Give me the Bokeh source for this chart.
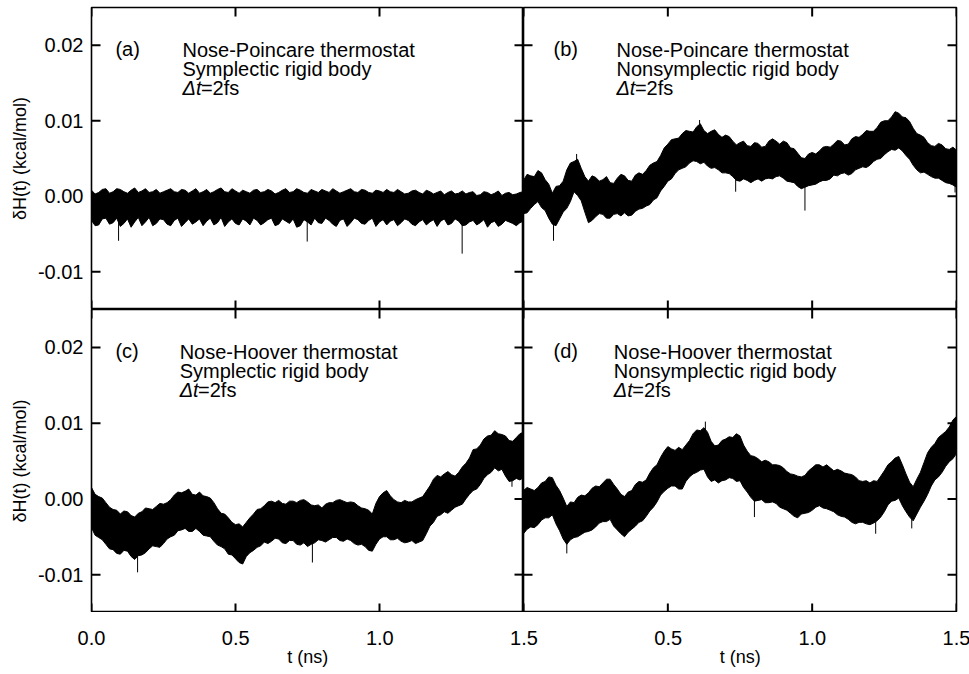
import numpy as np
from bokeh.plotting import figure
from bokeh.layouts import column, row
from bokeh.models import Range1d, LinearAxis, FixedTicker, Label, PrintfTickFormatter
from bokeh.core.properties import value
from bokeh.embed import file_html
from bokeh.resources import INLINE

FONT = "Liberation Sans"

# ---------------- data: energy drift, in units of 1e-3 kcal/mol ----------------
# envelope of the noisy trace read every 0.025 ns (hi / lo) and at the
# in-between times (mid arrays, t + 0.0125 ns)
t_ns = [round(0.025 * i, 4) for i in range(61)]
t_mid = [round(0.025 * i + 0.0125, 4) for i in range(60)]

a_hi = [0.8, 0.5, 1.0, 0.6, 0.9, 0.4, 1.1, 0.7, 0.5, 0.9,
        0.6, 1.0, 0.5, 0.8, 0.7, 0.4, 0.9, 0.6, 1.1, 0.5,
        0.7, 0.8, 0.4, 0.9, 0.6, 0.7, 0.5, 1.0, 0.6, 0.8,
        0.4, 0.7, 0.9, 0.5, 0.7, 0.6, 1.0, 0.5, 0.8, 0.4,
        0.7, 0.9, 0.5, 0.6, 0.4, 0.8, 0.3, 0.6, 0.5, 0.2,
        0.7, 0.4, 0.3, 0.6, 0.2, 0.5, 0.4, 0.1, 0.5, 0.3,
        0.6]
a_hi_mid = [0.3, 0.9, 0.4, 1.0, 0.6, 0.8, 0.5, 1.0, 0.6, 0.4,
            0.8, 0.6, 0.9, 0.4, 1.0, 0.6, 0.4, 0.9, 0.6, 1.0,
            0.4, 0.6, 0.8, 0.5, 0.9, 0.3, 0.8, 0.5, 1.0, 0.5,
            0.9, 0.5, 0.7, 1.0, 0.4, 0.8, 0.6, 0.9, 0.5, 0.8,
            0.5, 0.6, 0.9, 0.3, 0.7, 0.5, 0.8, 0.3, 0.7, 0.5,
            0.3, 0.7, 0.5, 0.1, 0.6, 0.2, 0.7, 0.4, 0.2, 0.5]
a_lo = [-3.2, -3.8, -2.9, -3.5, -4.0, -3.0, -3.4, -3.9, -2.8, -3.6,
        -3.1, -3.9, -2.9, -3.5, -3.7, -3.0, -3.3, -3.8, -2.8, -3.4,
        -3.6, -3.0, -3.8, -3.2, -3.5, -2.9, -3.7, -3.3, -3.0, -3.9,
        -3.4, -2.9, -3.6, -3.2, -4.0, -3.0, -3.5, -3.1, -3.7, -2.9,
        -3.4, -3.8, -3.1, -3.5, -3.2, -3.9, -3.1, -3.4, -4.0, -3.0,
        -3.6, -3.3, -3.8, -3.2, -3.5, -4.1, -3.3, -3.7, -3.4, -3.9,
        -3.3]
a_lo_mid = [-3.9, -3.0, -3.7, -2.9, -3.6, -4.1, -2.8, -3.4, -3.9, -3.0,
            -3.7, -3.2, -4.0, -3.0, -3.4, -3.9, -2.9, -3.5, -4.0, -3.0,
            -3.8, -3.3, -2.9, -3.8, -3.1, -3.9, -3.0, -3.6, -4.1, -3.1,
            -3.8, -3.5, -2.9, -3.7, -3.2, -4.0, -2.9, -3.6, -3.2, -4.0,
            -3.1, -3.3, -3.9, -3.0, -3.7, -3.4, -3.8, -3.1, -3.3, -3.8,
            -3.0, -3.9, -3.4, -3.8, -3.1, -3.5, -4.0, -3.2, -3.6, -3.5]
a_spk_t = [0.094, 0.749, 1.287]
a_spk_base = [-3.0, -3.0, -3.0]
a_spk_y = [-5.9, -6.0, -7.6]

b_hi = [2.1, 2.7, 3.4, 2.2, 0.4, 1.4, 3.5, 4.6, 3.7, 2.0,
        2.5, 2.2, 1.8, 2.4, 2.7, 2.0, 3.1, 3.4, 4.4, 5.4,
        6.9, 7.6, 8.3, 8.6, 9.2, 8.7, 8.6, 8.2, 8.1, 7.3,
        7.1, 6.7, 7.1, 6.5, 7.3, 7.3, 7.3, 6.4, 5.7, 5.0,
        5.8, 6.0, 6.6, 6.9, 7.3, 6.9, 7.9, 8.2, 8.6, 9.1,
        10.0, 10.5, 11.0, 10.4, 9.0, 8.1, 7.1, 6.6, 6.8, 6.2,
        6.1]
b_hi_mid = [2.9, 2.6, 3.1, 1.6, 1.3, 2.0, 4.4, 4.9, 2.6, 2.7,
            2.0, 2.6, 1.7, 2.9, 2.1, 2.8, 2.9, 4.1, 4.6, 6.4,
            7.5, 7.7, 8.7, 8.5, 9.6, 8.3, 8.8, 7.8, 7.9, 6.8,
            7.3, 6.6, 7.0, 6.6, 7.6, 6.9, 7.1, 6.3, 5.1, 5.6,
            5.6, 6.5, 6.5, 7.4, 6.8, 7.6, 7.8, 8.7, 8.6, 9.8,
            10.0, 11.2, 10.5, 9.9, 8.3, 7.8, 6.7, 7.0, 6.3, 6.5]
b_lo = [-2.3, -1.6, -0.7, -1.9, -3.7, -3.0, -1.6, 0.6, -0.6, -3.5,
        -2.7, -2.4, -2.9, -2.3, -2.2, -2.5, -1.7, -1.3, -0.5, 0.7,
        2.0, 3.0, 3.7, 4.4, 4.6, 4.5, 3.7, 3.5, 3.1, 2.6,
        2.0, 2.1, 2.1, 2.0, 2.4, 2.6, 2.4, 1.9, 1.3, 1.2,
        1.5, 1.9, 2.1, 2.8, 3.0, 2.8, 3.5, 3.9, 4.1, 4.9,
        5.5, 6.2, 6.4, 5.4, 4.1, 3.1, 2.9, 2.4, 2.1, 1.7,
        1.2]
b_lo_mid = [-2.2, -1.1, -1.5, -2.9, -3.9, -2.1, -0.7, 0.1, -2.1, -3.2,
            -2.3, -2.9, -2.4, -2.6, -2.6, -2.0, -1.6, -1.1, -0.2, 1.3,
            2.3, 3.5, 3.9, 4.7, 4.3, 4.0, 3.8, 3.1, 3.0, 2.1,
            2.3, 1.8, 2.3, 2.3, 2.3, 2.7, 2.0, 1.8, 1.0, 1.4,
            1.6, 2.1, 2.3, 2.7, 3.1, 3.0, 3.7, 3.8, 4.6, 5.0,
            5.9, 6.1, 6.0, 4.9, 3.5, 3.2, 2.6, 2.4, 1.8, 1.5]
b_spk_t = [0.104, 0.184, 0.61, 0.735, 0.975, 1.495]
b_spk_base = [-3.0, 4.0, 8.5, 2.5, 1.5, 2.0]
b_spk_y = [-5.9, 5.6, 10.1, 0.6, -1.9, 0.5]

c_hi = [1.5, 0.3, -0.5, -1.4, -2.0, -1.7, -2.4, -1.7, -1.3, -1.0,
        -0.7, -0.1, 0.9, 1.0, 0.6, 0.9, 0.3, -0.5, -1.9, -2.5,
        -3.4, -3.7, -2.5, -1.4, -0.9, -0.3, -0.2, -0.7, -0.3, -0.2,
        -0.4, -0.9, -1.2, -0.5, -0.2, -0.3, -0.4, -0.9, -1.3, -2.0,
        0.3, 1.1, -0.1, -0.5, -0.4, -0.1, 0.3, 1.7, 3.1, 3.3,
        3.2, 3.5, 4.7, 6.5, 7.1, 8.3, 9.0, 8.5, 7.7, 8.1,
        8.8]
c_hi_mid = [0.6, 0.1, -1.1, -1.5, -1.6, -2.2, -1.9, -1.2, -1.4, -0.6,
            -0.5, 0.5, 0.8, 1.3, 0.5, 0.4, 0.1, -1.3, -2.0, -3.1,
            -3.3, -3.1, -2.0, -1.3, -0.4, -0.5, -0.6, -0.3, -0.5, -0.1,
            -0.8, -0.8, -0.7, -0.5, -0.1, -0.5, -0.5, -1.2, -1.5, -0.6,
            0.8, 0.4, -0.4, -0.2, -0.4, 0.1, 1.0, 2.6, 2.9, 3.6,
            3.0, 4.2, 5.4, 6.6, 7.9, 8.4, 8.6, 8.3, 7.6, 8.6]
c_lo = [-3.8, -5.1, -6.0, -6.7, -7.3, -6.9, -8.0, -7.4, -6.6, -6.3,
        -5.9, -5.0, -4.2, -3.9, -4.3, -4.3, -4.9, -5.6, -6.3, -7.3,
        -7.9, -8.6, -7.1, -6.4, -5.7, -5.6, -5.3, -5.9, -5.5, -6.1,
        -6.3, -5.8, -5.5, -5.4, -5.1, -5.6, -5.5, -6.1, -6.3, -6.9,
        -5.3, -5.0, -5.4, -5.6, -5.7, -5.9, -5.5, -3.6, -2.3, -1.7,
        -1.5, -0.9, 0.0, 1.1, 1.9, 3.2, 4.1, 3.9, 2.3, 2.7,
        2.8]
c_lo_mid = [-4.8, -5.4, -6.6, -7.2, -6.8, -7.6, -7.5, -7.1, -6.2, -6.4,
            -5.3, -4.8, -4.1, -4.3, -3.9, -4.8, -5.0, -6.1, -6.6, -7.4,
            -8.4, -7.6, -6.8, -6.2, -5.9, -5.2, -5.8, -5.5, -6.0, -5.8,
            -6.0, -5.4, -5.7, -5.1, -5.5, -5.3, -5.9, -6.0, -6.8, -6.0,
            -5.0, -5.4, -5.2, -5.8, -5.5, -5.7, -4.6, -3.1, -2.1, -1.9,
            -1.1, -0.7, 0.6, 1.3, 2.7, 3.5, 3.7, 3.0, 2.4, 2.5]
c_spk_t = [0.16, 0.767, 1.46]
c_spk_base = [-7.0, -5.5, 3.0]
c_spk_y = [-9.7, -8.4, 1.6]

d_hi = [1.1, 1.3, 1.5, 2.3, 2.8, 1.1, -1.0, -0.5, 0.5, 0.8,
        1.7, 2.1, 2.6, 1.3, 0.3, 1.1, 2.3, 2.5, 4.1, 5.5,
        6.9, 6.4, 6.5, 7.7, 9.1, 9.4, 7.6, 7.1, 7.9, 8.1,
        8.3, 6.3, 5.6, 4.9, 4.9, 4.5, 4.1, 3.3, 3.0, 3.1,
        4.1, 4.5, 4.5, 3.7, 3.7, 3.3, 2.9, 2.3, 2.1, 2.3,
        3.7, 4.9, 5.6, 3.3, 1.6, 3.5, 6.1, 7.3, 8.5, 9.5,
        10.9]
d_hi_mid = [1.5, 1.1, 2.1, 2.9, 1.8, 0.1, -0.4, 0.2, 0.4, 1.4,
            1.6, 2.6, 1.9, 0.6, 0.9, 1.9, 2.2, 3.4, 4.5, 6.3,
            6.6, 6.8, 7.1, 8.6, 9.0, 8.8, 7.0, 7.7, 8.2, 8.6,
            7.1, 5.7, 5.3, 5.1, 4.5, 4.4, 3.6, 3.2, 2.9, 3.7,
            4.5, 4.2, 4.1, 3.9, 3.4, 3.2, 2.4, 2.4, 2.4, 3.0,
            4.5, 5.4, 4.5, 2.2, 2.6, 4.8, 6.8, 8.1, 8.9, 10.4]
d_lo = [-4.6, -3.7, -3.4, -2.5, -2.1, -4.2, -6.0, -5.1, -4.7, -4.3,
        -3.7, -3.0, -2.7, -4.1, -5.0, -4.0, -3.1, -2.3, -1.1, 0.5,
        1.4, 1.7, 1.3, 2.9, 3.5, 3.9, 2.3, 2.1, 2.5, 2.7,
        2.4, 0.9, -0.3, -0.1, -0.5, -0.6, -1.3, -1.9, -2.5, -1.9,
        -1.5, -0.9, -1.3, -1.7, -2.3, -2.7, -3.3, -3.1, -3.4, -2.9,
        -1.7, -0.3, 0.1, -1.7, -2.9, -1.1, 0.6, 2.5, 3.5, 4.9,
        6.0]
d_lo_mid = [-4.0, -3.8, -2.8, -2.5, -3.3, -5.3, -5.4, -5.0, -4.4, -4.1,
            -3.2, -3.0, -3.6, -4.6, -4.4, -3.6, -2.9, -1.6, -0.4, 1.0,
            1.7, 1.3, 2.3, 3.3, 3.8, 2.9, 2.5, 2.4, 2.8, 2.3,
            1.5, 0.2, -0.2, -0.5, -0.4, -1.1, -1.5, -2.3, -2.0, -1.8,
            -1.1, -1.2, -1.5, -2.1, -2.4, -3.1, -3.1, -3.3, -3.2, -2.4,
            -0.8, -0.2, -0.9, -2.4, -2.0, -0.3, 1.7, 2.9, 4.3, 5.3]
d_spk_t = [0.15, 0.63, 0.80, 1.22, 1.345]
d_spk_base = [-5.5, 9.0, 0.0, -3.0, -2.5]
d_spk_y = [-7.2, 10.2, -2.4, -4.6, -3.9]

SCALE = 1e-3  # values above are in 1e-3 kcal/mol

tags = ["(a)", "(b)", "(c)", "(d)"]
line1 = ["Nose-Poincare thermostat", "Nose-Poincare thermostat",
         "Nose-Hoover thermostat", "Nose-Hoover thermostat"]
line2 = ["Symplectic rigid body", "Nonsymplectic rigid body",
         "Symplectic rigid body", "Nonsymplectic rigid body"]
line3_a = "\u0394t"
line3_b = "=2fs"

X_START, X_END = 0.0, 1.5
Y_START, Y_END = -0.015, 0.025
x_ticks = [0.0, 0.5, 1.0, 1.5]
y_ticks = [-0.01, 0.0, 0.01, 0.02]
y_label = "\u03b4H(t) (kcal/mol)"
x_label = "t (ns)"

TICK_PX = 9
TICK_COLOR = "black"
LEFT_B, RIGHT_B, TOP_B = 91, 13, 7
FW_L, FW_R, FH_T, FH_B = 432, 433, 302, 303
STRIP_H = 62


def interleave(a, m):
    out = []
    for i in range(len(m)):
        out.append(a[i])
        out.append(m[i])
    out.append(a[-1])
    return out


t_all = interleave(t_ns, t_mid)


def make_fig(fw, fh, bl, br, bt, bb):
    p = figure(width=bl + fw + br, height=bt + fh + bb,
               frame_width=fw, frame_height=fh,
               x_range=Range1d(X_START, X_END), y_range=Range1d(Y_START, Y_END),
               x_axis_location=None, y_axis_location=None,
               toolbar_location=None, output_backend="svg",
               min_border_left=bl, min_border_right=br,
               min_border_top=bt, min_border_bottom=bb)
    p.outline_line_color = "black"
    p.outline_line_width = 1.6
    p.xgrid.visible = False
    p.ygrid.visible = False
    return p


def add_ticks(p, fw, fh):
    # inward ticks of TICK_PX pixels on all four sides of the panel
    dx = TICK_PX * (X_END - X_START) / fw
    dy = TICK_PX * (Y_END - Y_START) / fh
    ny, nx = len(y_ticks), len(x_ticks)
    p.segment(x0=[X_START] * ny, y0=list(y_ticks), x1=[X_START + dx] * ny, y1=list(y_ticks),
              line_color=TICK_COLOR, line_width=2)
    p.segment(x0=[X_END] * ny, y0=list(y_ticks), x1=[X_END - dx] * ny, y1=list(y_ticks),
              line_color=TICK_COLOR, line_width=2)
    p.segment(x0=list(x_ticks), y0=[Y_END] * nx, x1=list(x_ticks), y1=[Y_END - dy] * nx,
              line_color=TICK_COLOR, line_width=2)
    p.segment(x0=list(x_ticks), y0=[Y_START] * nx, x1=list(x_ticks), y1=[Y_START + dy] * nx,
              line_color=TICK_COLOR, line_width=2)


def add_left_axis(p):
    ax = LinearAxis(ticker=FixedTicker(ticks=y_ticks, minor_ticks=[]))
    ax.major_tick_in = 0
    ax.major_tick_out = 0
    ax.minor_tick_in = 0
    ax.minor_tick_out = 0
    ax.axis_line_color = None
    ax.formatter = PrintfTickFormatter(format="%.2f")
    ax.major_label_text_font = FONT
    ax.major_label_text_font_size = "20px"
    ax.major_label_text_color = "black"
    ax.major_label_standoff = 8
    ax.axis_label = y_label
    ax.axis_label_text_font = FONT
    ax.axis_label_text_font_size = "18px"
    ax.axis_label_text_font_style = "normal"
    ax.axis_label_text_color = "black"
    ax.axis_label_standoff = 5
    p.add_layout(ax, "left")


def draw(p, fw, fh, hi, hi_mid, lo, lo_mid, st, sb, sy, idx, tag_x, txt_x):
    y_hi = np.array(interleave(hi, hi_mid)) * SCALE
    y_lo = np.array(interleave(lo, lo_mid)) * SCALE
    p.varea(x=t_all, y1=y_lo, y2=y_hi, fill_color="black")
    p.line(t_all, y_hi, line_color="black", line_width=1)
    p.line(t_all, y_lo, line_color="black", line_width=1)
    p.segment(x0=st, y0=np.array(sb) * SCALE, x1=st, y1=np.array(sy) * SCALE,
              line_color="black", line_width=1)
    add_ticks(p, fw, fh)
    common = dict(text_font=FONT, text_font_size="20px",
                  text_baseline="alphabetic", text_color="black")
    p.add_layout(Label(x=tag_x, y=0.0195, text=tags[idx], **common))
    p.add_layout(Label(x=txt_x, y=0.0194, text=line1[idx], **common))
    p.add_layout(Label(x=txt_x, y=0.0169, text=line2[idx], **common))
    p.add_layout(Label(x=txt_x, y=0.0144, text=line3_a,
                       text_font_style="italic", **common))
    p.add_layout(Label(x=txt_x + 0.064, y=0.0144, text=line3_b, **common))


# top-left (a)
pa = make_fig(FW_L, FH_T, LEFT_B, 0, TOP_B, 0)
add_left_axis(pa)
draw(pa, FW_L, FH_T, a_hi, a_hi_mid, a_lo, a_lo_mid,
     a_spk_t, a_spk_base, a_spk_y, 0, 0.083, 0.316)

# top-right (b)
pb = make_fig(FW_R, FH_T, 0, RIGHT_B, TOP_B, 0)
draw(pb, FW_R, FH_T, b_hi, b_hi_mid, b_lo, b_lo_mid,
     b_spk_t, b_spk_base, b_spk_y, 1, 0.104, 0.322)

# bottom-left (c)
pc = make_fig(FW_L, FH_B, LEFT_B, 0, 0, 0)
add_left_axis(pc)
draw(pc, FW_L, FH_B, c_hi, c_hi_mid, c_lo, c_lo_mid,
     c_spk_t, c_spk_base, c_spk_y, 2, 0.083, 0.306)

# bottom-right (d)
pd = make_fig(FW_R, FH_B, 0, RIGHT_B, 0, 0)
draw(pd, FW_R, FH_B, d_hi, d_hi_mid, d_lo, d_lo_mid,
     d_spk_t, d_spk_base, d_spk_y, 3, 0.104, 0.313)

# shared time axis strip under both bottom panels: the left panel runs 0..1.5 ns
# and the right one starts again at 0 (placed at offset 1.5 on this strip)
px_per_ns = (FW_L + FW_R) / (2 * X_END)
strip = figure(width=LEFT_B + FW_L + FW_R + RIGHT_B, height=STRIP_H,
               frame_width=LEFT_B + FW_L + FW_R + RIGHT_B, frame_height=STRIP_H,
               x_range=Range1d(-LEFT_B / px_per_ns, 2 * X_END + RIGHT_B / px_per_ns),
               y_range=Range1d(-STRIP_H, 0),
               x_axis_location=None, y_axis_location=None,
               toolbar_location=None, output_backend="svg",
               min_border=0)
strip.outline_line_color = None
strip.xgrid.visible = False
strip.ygrid.visible = False
tick_pos = list(x_ticks) + [X_END + t for t in x_ticks[1:]]
tick_txt = ["%.1f" % t for t in x_ticks] + ["%.1f" % t for t in x_ticks[1:]]
strip.text(x=tick_pos, y=[-18] * len(tick_pos), text=tick_txt,
           text_font=value(FONT), text_font_size=value("20px"),
           text_align="center", text_baseline="top", text_color="black")
strip.text(x=[X_END / 2, X_END + X_END / 2], y=[-34, -34], text=[x_label, x_label],
           text_font=value(FONT), text_font_size=value("18px"),
           text_align="center", text_baseline="top", text_color="black")

layout = column(row(pa, pb), row(pc, pd), strip)

open("out.html", "w").write(file_html(layout, INLINE))
